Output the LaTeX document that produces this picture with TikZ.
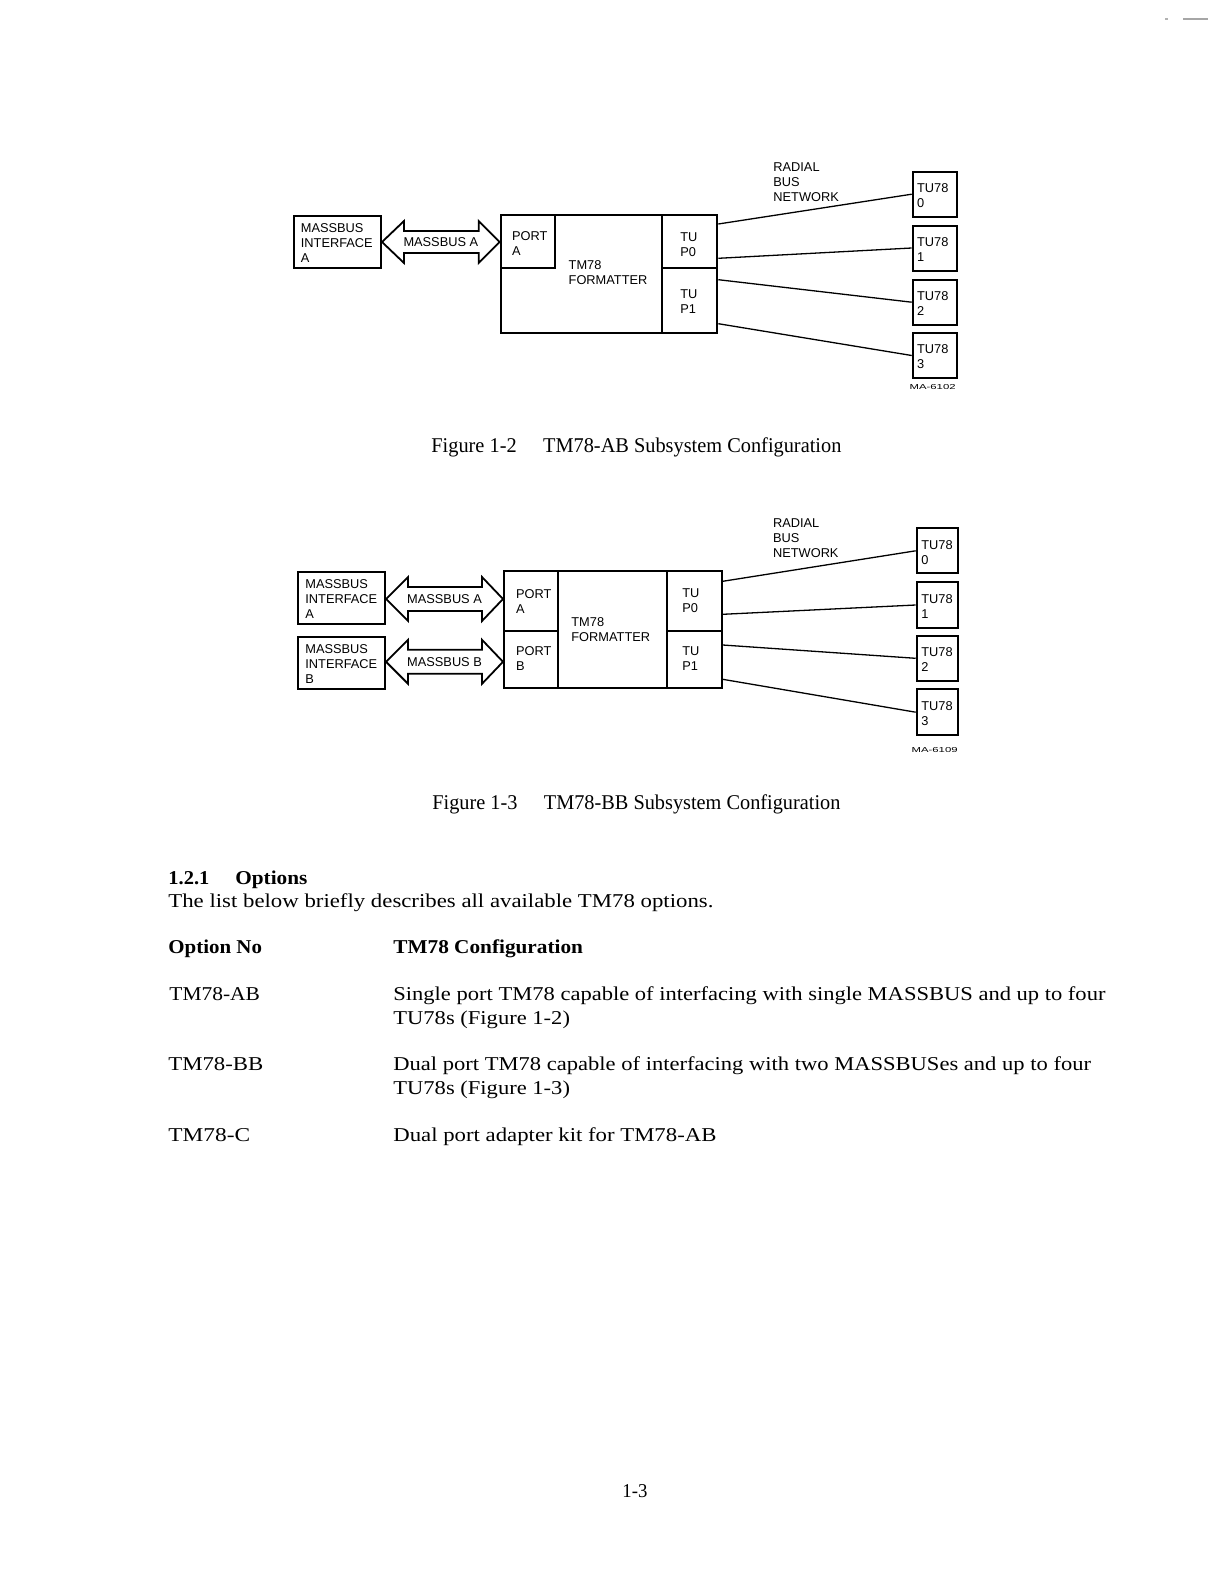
\documentclass[tikz,border=0pt]{standalone}
\usepackage{fontspec}
\usepackage{graphicx}
\usetikzlibrary{calc}
\newfontfamily\dgfont{Liberation Sans}
\newfontfamily\bodyfont{Liberation Serif}
\newcommand\fitto[2]{\resizebox{#1}{\height}{#2}}
\tikzset{
  blk/.style={draw, line width=1pt, inner sep=0pt},
  lbl/.style={font=\dgfont\fontsize{6.4}{7.5}\selectfont, align=left, inner sep=0pt, anchor=west},
  clbl/.style={font=\dgfont\fontsize{6.4}{7.5}\selectfont, inner sep=0pt},
  tinylbl/.style={font=\dgfont\fontsize{3.6}{4}\selectfont, inner sep=0pt, anchor=east},
  arr/.style={draw, line width=0.9pt, line join=miter},
  wire/.style={draw, line width=0.65pt},
  txt/.style={font=\bodyfont\fontsize{9.8}{12}\selectfont, inner sep=0pt, anchor=base west},
  btxt/.style={font=\bodyfont\bfseries\fontsize{9.8}{12}\selectfont, inner sep=0pt, anchor=base west},
  figcap/.style={font=\bodyfont\fontsize{10.5}{12}\selectfont, inner sep=0pt, anchor=base west},
}
\begin{document}
\begin{tikzpicture}[x=0.5pt,y=-0.5pt]
\useasboundingbox[fill=white] (0,0) rectangle (1224,1584);
% scan marks top right
\draw[gray!60, line width=0.6pt] (1165,19) -- (1168,19);
\draw[gray!70, line width=0.8pt] (1183,19) -- (1208,19);

% ================= Figure 1-2 =================
\node[blk, minimum width=43.5pt, minimum height=26pt] (mia) at (337.5,242) {};
\node[lbl] (miat) at ($(mia.west)+(7.5,1.3)$) {MASSBUS\\INTERFACE\\A};

\node[blk, minimum width=108.3pt, minimum height=58.85pt] (fmt1) at (609,273.85) {};
\node[blk, minimum width=27.15pt, minimum height=26.65pt] (pa1) at (527.85,241.65) {};
\node[blk, minimum width=27.5pt, minimum height=26.65pt] (tp0) at (689.8,241.65) {};
\node[blk, minimum width=27.5pt, minimum height=32.2pt] (tp1) at (689.8,300.5) {};
\node[lbl] (pa1t) at (511.7,243.9) {PORT\\A};
\node[lbl] (fmt1t) at (568.3,272.5) {TM78\\FORMATTER};
\node[lbl] (tp0t) at (680,244.2) {TU\\P0};
\node[lbl] (tp1t) at (680,301.7) {TU\\P1};

\coordinate (aL1) at (mia.east);
\coordinate (aR1) at (aL1 -| pa1.west);
\draw[arr] (aL1) -- ++(22,-21) -- ++(0,10) -- ($(aR1)+(-21,-11)$) -- ++(0,-10) -- (aR1)
  -- ++(-21,21) -- ++(0,-10) -- ($(aL1)+(22,11)$) -- ++(0,10) -- cycle;
\node[clbl] (mb1t) at ($(aL1)!0.5!(aR1)$) {MASSBUS A};

\node[blk, minimum width=22pt, minimum height=22.5pt] (t10) at (934.7,194.2) {};
\node[blk, minimum width=22pt, minimum height=22.5pt] (t11) at (934.7,248) {};
\node[blk, minimum width=22pt, minimum height=22.5pt] (t12) at (934.7,302.2) {};
\node[blk, minimum width=22pt, minimum height=22.5pt] (t13) at (934.7,355.5) {};
\node[lbl] (t10t) at ($(t10.west)+(5,1.3)$) {TU78\\0};
\node[lbl] (t11t) at ($(t11.west)+(5,1.3)$) {TU78\\1};
\node[lbl] (t12t) at ($(t12.west)+(5,1.3)$) {TU78\\2};
\node[lbl] (t13t) at ($(t13.west)+(5,1.3)$) {TU78\\3};

\draw[wire] ($(tp0.north east)+(0,10)$) -- (t10.west);
\draw[wire] ($(tp0.south east)+(0,-11)$) -- (t11.west);
\draw[wire] ($(tp1.north east)+(0,12.4)$) -- (t12.west);
\draw[wire] ($(tp1.south east)+(0,-10)$) -- (t13.west);

\node[lbl] (rbn1) at (773,181.7) {RADIAL\\BUS\\NETWORK};
\node[tinylbl] (ma1) at (956,387) {\resizebox{23pt}{\height}{MA-6102}};

\node[figcap] (cap1) at (431,452) {\fitto{205pt}{Figure 1-2\hspace{1.3em}TM78-AB Subsystem Configuration}};

% ================= Figure 1-3 =================
\node[blk, minimum width=43.35pt, minimum height=26.3pt] (mia2) at (341.7,598) {};
\node[blk, minimum width=43.35pt, minimum height=26pt] (mib2) at (341.7,663.3) {};
\node[lbl] (mia2t) at (305,599) {MASSBUS\\INTERFACE\\A};
\node[lbl] (mib2t) at (305,663.8) {MASSBUS\\INTERFACE\\B};

\node[blk, minimum width=108.85pt, minimum height=58.35pt] (fmt2) at (612.85,629.35) {};
\node[blk, minimum width=27.15pt, minimum height=29.85pt] (pa2) at (531.15,600.85) {};
\node[blk, minimum width=27.15pt, minimum height=28.5pt] (pb2) at (531.15,659.2) {};
\node[blk, minimum width=27.5pt, minimum height=29.85pt] (tp20) at (694.2,600.85) {};
\node[blk, minimum width=27.5pt, minimum height=28.5pt] (tp21) at (694.2,659.2) {};
\node[lbl] (pa2t) at (515.7,601.2) {PORT\\A};
\node[lbl] (pb2t) at (515.7,658.8) {PORT\\B};
\node[lbl] (fmt2t) at (571,630) {TM78\\FORMATTER};
\node[lbl] (tp20t) at (682,600.8) {TU\\P0};
\node[lbl] (tp21t) at (682,658.8) {TU\\P1};

\coordinate (aL2) at ($(mia2.east)+(0,1)$);
\coordinate (aR2) at (aL2 -| pa2.west);
\draw[arr] (aL2) -- ++(22,-22) -- ++(0,10) -- ($(aR2)+(-21,-12)$) -- ++(0,-10) -- (aR2)
  -- ++(-21,22) -- ++(0,-10) -- ($(aL2)+(22,12)$) -- ++(0,10) -- cycle;
\node[clbl] (mb2at) at ($(aL2)!0.5!(aR2)$) {MASSBUS A};

\coordinate (bL2) at ($(mib2.east)+(0,-1.5)$);
\coordinate (bR2) at (bL2 -| pb2.west);
\draw[arr] (bL2) -- ++(22,-22) -- ++(0,10) -- ($(bR2)+(-21,-12)$) -- ++(0,-10) -- (bR2)
  -- ++(-21,22) -- ++(0,-10) -- ($(bL2)+(22,12)$) -- ++(0,10) -- cycle;
\node[clbl] (mb2bt) at ($(bL2)!0.5!(bR2)$) {MASSBUS B};

\node[blk, minimum width=20.8pt, minimum height=22.5pt] (t20) at (937.5,550.8) {};
\node[blk, minimum width=20.8pt, minimum height=22.7pt] (t21) at (937.5,605) {};
\node[blk, minimum width=20.8pt, minimum height=22.7pt] (t22) at (937.5,658.3) {};
\node[blk, minimum width=20.8pt, minimum height=22.8pt] (t23) at (937.5,712.2) {};
\node[lbl] (t20t) at ($(t20.west)+(5.3,1.3)$) {TU78\\0};
\node[lbl] (t21t) at ($(t21.west)+(5.3,1.3)$) {TU78\\1};
\node[lbl] (t22t) at ($(t22.west)+(5.3,1.3)$) {TU78\\2};
\node[lbl] (t23t) at ($(t23.west)+(5.3,1.3)$) {TU78\\3};

\draw[wire] ($(tp20.north east)+(0,11.3)$) -- (t20.west);
\draw[wire] ($(tp20.south east)+(0,-17.4)$) -- (t21.west);
\draw[wire] ($(tp21.north east)+(0,15.3)$) -- (t22.west);
\draw[wire] ($(tp21.south east)+(0,-9.4)$) -- (t23.west);

\node[lbl] (rbn2) at (772.7,537.7) {RADIAL\\BUS\\NETWORK};
\node[tinylbl] (ma2) at (958,750) {\resizebox{23pt}{\height}{MA-6109}};

\node[figcap] (cap2) at (432,809) {\fitto{204pt}{Figure 1-3\hspace{1.3em}TM78-BB Subsystem Configuration}};

% ================= Text =================
\node[btxt] (sec) at (168,884) {\fitto{20.5pt}{1.2.1}};
\node[btxt] (secn) at (235,884) {\fitto{36pt}{Options}};
\node[txt] (intro) at (168,907) {\fitto{272.5pt}{The list below briefly describes all available TM78 options.}};
\node[btxt] (h1) at (168,953) {\fitto{46.8pt}{Option No}};
\node[btxt] (h2) at (393,953) {\fitto{94.8pt}{TM78 Configuration}};
\node[txt] (o1) at (169,1000) {\fitto{45.3pt}{TM78-AB}};
\node[txt] (d1a) at (393,1000) {\fitto{356pt}{Single port TM78 capable of interfacing with single MASSBUS and up to four}};
\node[txt] (d1b) at (393,1024) {\fitto{88.3pt}{TU78s (Figure 1-2)}};
\node[txt] (o2) at (168,1070) {\fitto{47.5pt}{TM78-BB}};
\node[txt] (d2a) at (393,1070) {\fitto{348.8pt}{Dual port TM78 capable of interfacing with two MASSBUSes and up to four}};
\node[txt] (d2b) at (393,1094) {\fitto{88.3pt}{TU78s (Figure 1-3)}};
\node[txt] (o3) at (168,1141.5) {\fitto{40.9pt}{TM78-C}};
\node[txt] (d3) at (393,1141.5) {\fitto{161.5pt}{Dual port adapter kit for TM78-AB}};
\node[txt] (pg) at (622,1497) {\fitto{12.5pt}{1-3}};
\end{tikzpicture}
\end{document}
